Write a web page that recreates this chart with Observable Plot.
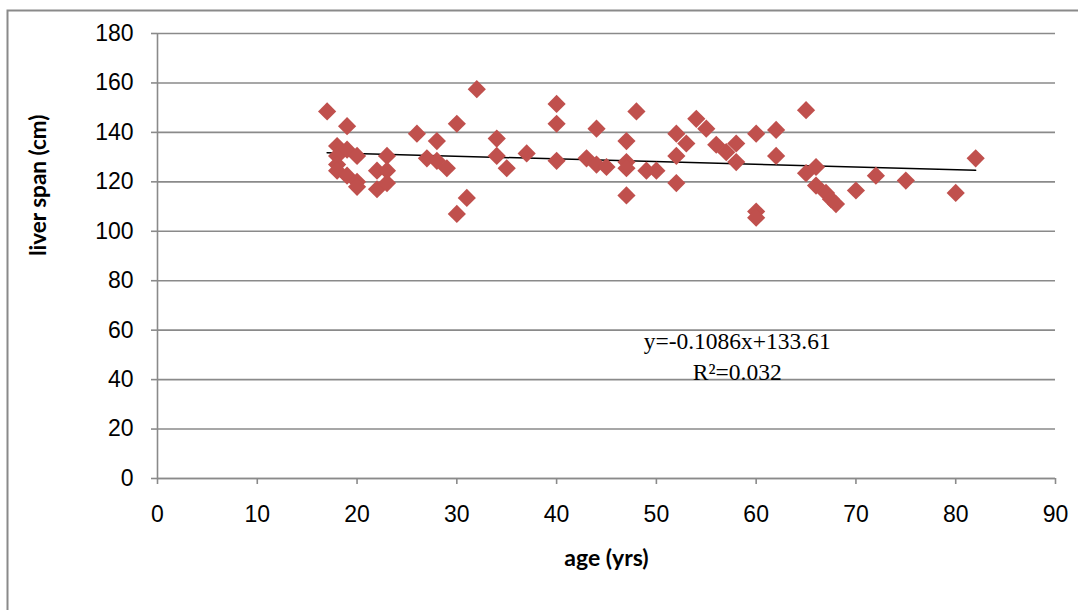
<!DOCTYPE html>
<html>
<head>
<meta charset="utf-8">
<script src="https://cdn.jsdelivr.net/npm/d3@7"></script>
<script src="https://cdn.jsdelivr.net/npm/@observablehq/plot@0.6"></script>
<style>
  html, body { margin: 0; padding: 0; background: #fff; }
  #chart svg { display: block; }
</style>
</head>
<body>
<div id="chart"></div>
<script>
// Subject age (years) and measured liver span
const ages = [17, 18, 18, 18, 18, 19, 19, 19, 20, 20, 20, 22, 22, 23, 23, 23, 26, 27, 28, 28,
  29, 30, 30, 31, 32, 34, 34, 35, 37, 40, 40, 40, 43, 44, 44, 45, 47, 47, 47, 47,
  48, 49, 50, 52, 52, 52, 53, 54, 55, 56, 57, 58, 58, 60, 60, 60, 62, 62, 65, 65,
  66, 66, 67, 67.5, 68, 70, 72, 75, 80, 82];
const spans = [148.5, 134.5, 130.5, 127, 124.5, 142.5, 133, 122.5, 130.5, 120, 118, 124.5, 117, 130.5, 124.5, 119.5, 139.5, 129.5, 136.5, 128.5,
  125.5, 143.5, 107, 113.5, 157.5, 137.5, 130.5, 125.5, 131.5, 151.5, 143.5, 128.5, 129.5, 141.5, 127, 126, 136.5, 128, 125.5, 114.5,
  148.5, 124.5, 124.5, 139.5, 130.5, 119.5, 135.5, 145.5, 141.5, 135, 132, 135.5, 128, 139.5, 108, 105.5, 141, 130.5, 149, 123.5,
  126, 118.5, 115.5, 113, 111, 116.5, 122.5, 120.5, 115.5, 129.5];

// Axis ticks
const xTicks = [0, 10, 20, 30, 40, 50, 60, 70, 80, 90];
const yTicks = [0, 20, 40, 60, 80, 100, 120, 140, 160, 180];

// Linear fit reported on the chart
const fitSlope = -0.1086;
const fitIntercept = 133.61;
const fitR2 = 0.032;
const fitRange = [17, 82];

// Fit label placement (data units)
const fitLabelX = 58.1;
const fitLabelY = [55.6, 42.9];

const points = ages.map((age, i) => ({age, span: spans[i]}));
const fitLine = fitRange.map(age => ({age, span: fitSlope * age + fitIntercept}));
const fitLabels = [
  {age: fitLabelX, span: fitLabelY[0], text: `y=${fitSlope}x+${fitIntercept}`},
  {age: fitLabelX, span: fitLabelY[1], text: `R²=${fitR2}`}
];

const grey = "#8a8a8a";

const chart = Plot.plot({
  width: 1078,
  height: 610,
  marginLeft: 157,
  marginRight: 23,
  marginTop: 33,
  marginBottom: 132,
  style: {fontFamily: "'Liberation Sans', Arial, sans-serif", fontSize: "23px", color: "#000", background: "#fff"},
  x: {domain: [0, 90], label: null},
  y: {domain: [0, 180], label: null},
  marks: [
    Plot.gridY(yTicks, {stroke: grey, strokeOpacity: 1, strokeWidth: 1.6}),
    Plot.ruleX([0], {stroke: grey, strokeWidth: 1.6}),
    Plot.ruleY([0], {stroke: grey, strokeWidth: 1.6}),
    Plot.axisY(yTicks, {tickSize: 6, tickPadding: 18, stroke: grey, strokeWidth: 1.6, fill: "#000", label: null, fontSize: 23}),
    Plot.axisX(xTicks, {tickSize: 6, tickPadding: 21, stroke: grey, strokeWidth: 1.6, fill: "#000", label: null, fontSize: 23}),
    Plot.line(fitLine, {x: "age", y: "span", stroke: "#000", strokeWidth: 1.5}),
    Plot.dot(points, {x: "age", y: "span", symbol: "diamond2", r: 8.2, fill: "#C0504D", stroke: null}),
    Plot.text(fitLabels, {x: "age", y: "span", text: "text", fontFamily: "'Liberation Serif', 'Times New Roman', serif", fontSize: 23.5, textAnchor: "middle", fill: "#000"}),
    Plot.text(["age (yrs)"], {frameAnchor: "bottom", dy: 87, fontFamily: "Lato, 'Open Sans', sans-serif", fontWeight: "bold", fontSize: 23, fill: "#000"}),
    Plot.text(["liver span (cm)"], {frameAnchor: "left", dx: -119, rotate: -90, fontFamily: "Lato, 'Open Sans', sans-serif", fontWeight: "bold", fontSize: 22.5, fill: "#000"})
  ]
});

// Outer chart-area border (top and left edges)
d3.select(chart).append("path")
  .attr("d", "M7.5,612V10.5H1080")
  .attr("fill", "none")
  .attr("stroke", grey)
  .attr("stroke-width", 2);

document.getElementById("chart").appendChild(chart);
</script>
</body>
</html>
